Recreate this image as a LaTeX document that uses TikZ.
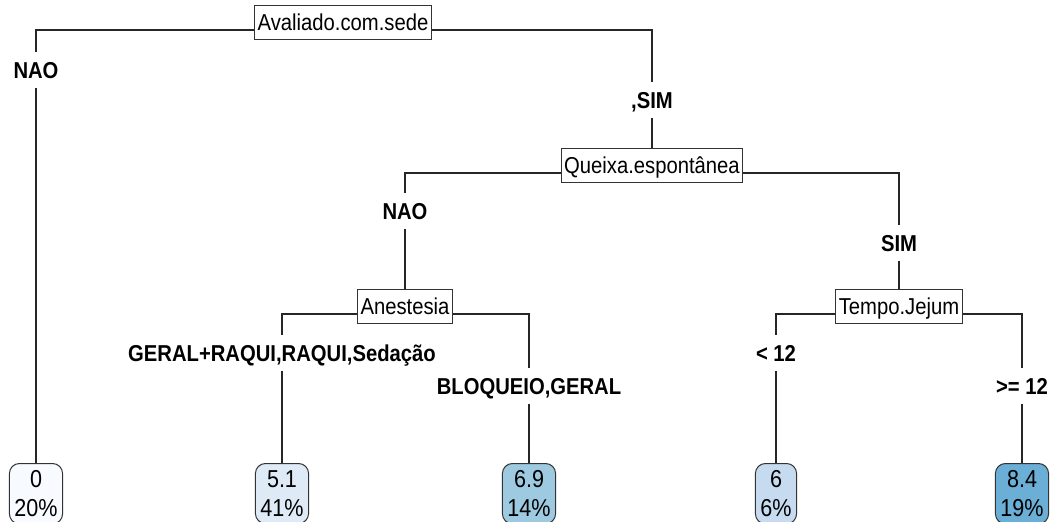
\documentclass[tikz,border=0pt]{standalone}
\usepackage{fontspec}
\setmainfont{Liberation Sans}[FakeStretch=0.88]
\definecolor{leafA}{HTML}{F7FBFF}
\definecolor{leafB}{HTML}{DEEBF7}
\definecolor{leafC}{HTML}{9ECAE1}
\definecolor{leafD}{HTML}{C6DBEF}
\definecolor{leafE}{HTML}{6BAED6}
\begin{document}
\begin{tikzpicture}[x=1pt,y=-1pt,
  every node/.style={font=\fontsize{23}{29}\selectfont},
  split/.style={draw=black!80,line width=1pt,fill=white,anchor=base,
    inner xsep=3pt,inner ysep=8pt,text height=17pt,text depth=1pt},
  branch/.style={font=\fontsize{23}{29}\selectfont\bfseries,
    inner xsep=0pt,inner ysep=9pt,text height=17pt,text depth=0pt},
  leaf/.style={draw=black!80,line width=1pt,rounded corners=10pt,anchor=north,
    font=\fontsize{24.5}{29}\selectfont,align=center,inner xsep=5pt,inner ysep=7pt},
  edge/.style={draw=black!85,line width=1.1pt}]

  \useasboundingbox (0,0) rectangle (1055,522);

  % Define the split boxes
  \node[split] (sede) at (343,30) {Avaliado.com.sede};
  \node[split] (queixa) at (652,173) {Queixa.espontânea};
  \node[split] (anest) at (405,314) {Anestesia};
  \node[split] (jejum) at (899,314) {Tempo.Jejum};

  % Define the branch labels
  \node[branch] (naoA) at (36,70) {NAO};
  \node[branch] (simA) at (652,100) {,SIM};
  \node[branch] (naoB) at (405,211) {NAO};
  \node[branch] (simB) at (899,243) {SIM};
  \node[branch] (geral) at (282,353) {GERAL+RAQUI,RAQUI,Sedação};
  \node[branch] (bloq) at (529,386) {BLOQUEIO,GERAL};
  \node[branch] (menor) at (776,353) {< 12};
  \node[branch] (maior) at (1022,386) {>= 12};

  % Define the leaves
  \node[leaf,fill=leafA] (leafA) at (36,463) {0\\20\%};
  \node[leaf,fill=leafB] (leafB) at (282,463) {5.1\\41\%};
  \node[leaf,fill=leafC] (leafC) at (529,463) {6.9\\14\%};
  \node[leaf,fill=leafD] (leafD) at (776,463) {6\\6\%};
  \node[leaf,fill=leafE] (leafE) at (1022,463) {8.4\\19\%};

  % Draw the branches
  \draw[edge] (sede.base west) -| (naoA.north);
  \draw[edge] (naoA.south) -- (leafA.north);
  \draw[edge] (sede.base east) -| (simA.north);
  \draw[edge] (simA.south) -- (queixa.north);

  \draw[edge] (queixa.base west) -| (naoB.north);
  \draw[edge] (naoB.south) -- (anest.north);
  \draw[edge] (queixa.base east) -| (simB.north);
  \draw[edge] (simB.south) -- (jejum.north);

  \draw[edge] (anest.base west) -| (geral.north);
  \draw[edge] (geral.south) -- (leafB.north);
  \draw[edge] (anest.base east) -| (bloq.north);
  \draw[edge] (bloq.south) -- (leafC.north);

  \draw[edge] (jejum.base west) -| (menor.north);
  \draw[edge] (menor.south) -- (leafD.north);
  \draw[edge] (jejum.base east) -| (maior.north);
  \draw[edge] (maior.south) -- (leafE.north);

\end{tikzpicture}
\end{document}
